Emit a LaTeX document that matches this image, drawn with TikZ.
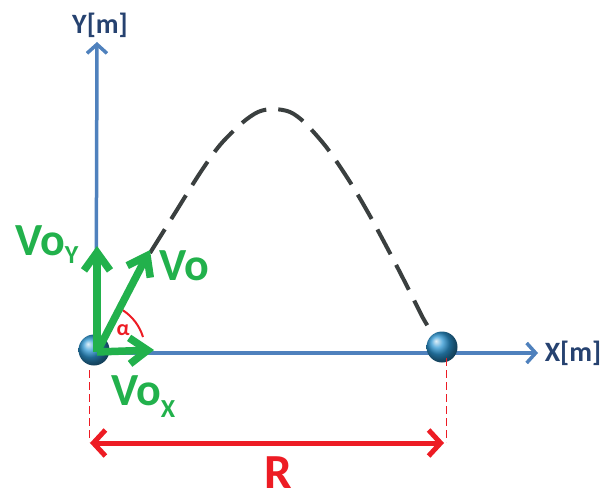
\documentclass[tikz,border=0pt]{standalone}
\usepackage{fontspec}
\setmainfont{Carlito}
\usetikzlibrary{arrows.meta}
\definecolor{vgreen}{RGB}{34,177,76}
\definecolor{vred}{RGB}{237,28,36}
\definecolor{axblue}{RGB}{79,129,189}
\definecolor{lblblue}{RGB}{38,66,112}
\definecolor{curvegray}{RGB}{58,63,63}
\definecolor{ballblue}{RGB}{45,150,210}
\newcommand{\mysubfont}{\bfseries\fontsize{26}{26}\selectfont}
\tikzset{
  axisline/.style={draw=axblue, line width=3.5pt, -{Straight Barb[length=9pt,width=20pt]}},
  axislabel/.style={text=lblblue, font=\bfseries\fontsize{28}{28}\selectfont, inner sep=0pt},
  traj/.style={draw=curvegray, line width=4pt, dash pattern=on 28pt off 12pt},
  ballnode/.style={circle, minimum size=31pt, inner sep=0pt, ball color=ballblue},
  vecarrow/.style={draw=vgreen, line width=7.5pt, -{Straight Barb[length=18pt,width=26pt]}},
  veclabel/.style={text=vgreen, font=\bfseries\fontsize{46}{46}\selectfont, inner sep=0pt, anchor=base west},
  dimline/.style={draw=vred, line width=5pt, {Straight Barb[length=12pt,width=26pt]}-{Straight Barb[length=12pt,width=26pt]}},
  guide/.style={draw=vred, line width=1pt, dash pattern=on 8pt off 4pt},
}
\begin{document}
\begin{tikzpicture}[x=1pt,y=-1pt]
\useasboundingbox (0,0) rectangle (609,494);
% coordinates
\coordinate (O) at (96,352);
\coordinate (ytip) at (97,42);
\coordinate (xtip) at (538,353);
\coordinate (xstart) at (96,353);
% axes
\draw[axisline] (O) -- (ytip);
\draw[axisline] (xstart) -- (xtip);
\node[axislabel] (ylab) at (100,25) {Y[m]};
\node[axislabel] (xlab) at (573,353) {X[m]};
% trajectory
\draw[traj] plot[smooth] coordinates {(150,253) (175,213) (200,173) (220,145) (242,123) (258,112) (273,109) (290,112) (305,123) (327,148) (350,182) (370,216) (392,257) (410,292) (423,318) (434,336)};
% balls
\node[ballnode] (ball1) at (94,350) {};
\node[ballnode] (ball2) at (442,347) {};
% guides and range
\coordinate (g1top) at (89,370);
\coordinate (g1bot) at (89,442);
\coordinate (g2top) at (446,358);
\coordinate (g2bot) at (446,442);
\draw[guide] (g1top) -- (g1bot);
\draw[guide] (g2top) -- (g2bot);
\coordinate (rl) at (90,443);
\coordinate (rr) at (444,443);
\draw[dimline] (rl) -- (rr);
\node[text=vred, font=\bfseries\fontsize{49}{49}\selectfont, inner sep=0pt, anchor=base] (R) at (278,488) {R};
% angle
\coordinate (a1) at (143,337);
\draw[vred, line width=2pt] (a1) arc[start angle=-17, end angle=-57, radius=49];
\node[text=vred, font=\bfseries\fontsize{22}{22}\selectfont, inner sep=0pt] (alpha) at (123,330) {α};
% vectors
\coordinate (tipY) at (97,246);
\coordinate (tipV) at (150,250);
\coordinate (tipX) at (154,350);
\coordinate (O2) at (97,352);
\draw[vecarrow] (O2) -- (tipY);
\draw[vecarrow] (O2) -- (tipX);
\draw[vecarrow] (O2) -- (tipV);
\node[veclabel] (voy) at (15,255) {Vo\raisebox{-8pt}{\mysubfont Y}};
\node[veclabel] (vo) at (159,280) {Vo};
\node[veclabel] (vox) at (111,405) {Vo\raisebox{-12pt}{\mysubfont X}};
\end{tikzpicture}
\end{document}
